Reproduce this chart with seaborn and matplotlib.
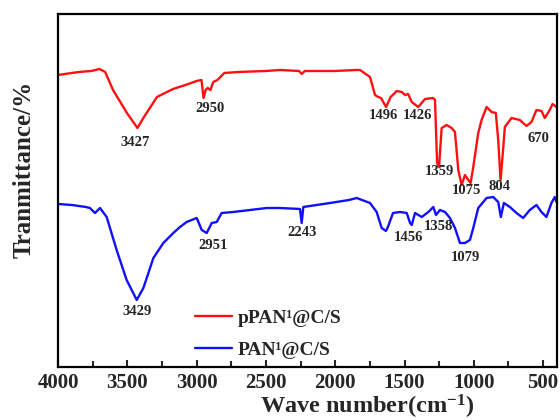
import numpy as np
import pandas as pd
import matplotlib
matplotlib.use("Agg")
import matplotlib.pyplot as plt
import seaborn as sns
from matplotlib.ticker import MultipleLocator

# ---- data (transmittance in arbitrary units) ----
red_wn = [4000, 3850, 3760, 3700, 3660, 3603, 3503, 3427, 3380, 3286, 3170, 3080,
          3000, 2965, 2950, 2935, 2920, 2900, 2880, 2850, 2800, 2700, 2500, 2398,
          2260, 2242, 2220, 2000, 1850, 1821, 1749, 1713, 1690, 1670, 1633, 1600,
          1556, 1520, 1496, 1474, 1448, 1401, 1352, 1294, 1280, 1265, 1251, 1232,
          1196, 1160, 1136, 1112, 1088, 1064, 1040, 1023, 1004, 968, 944, 908,
          872, 841, 824, 807, 793, 776, 728, 668, 620, 584, 548, 512, 488, 452,
          432, 403]
red_t = [292, 295, 296, 298, 295, 277, 254, 239, 250, 270, 278, 282,
         286, 287, 269, 277, 279, 277, 285, 287, 294, 295, 296, 297,
         296, 293, 296, 296, 297, 297, 290, 272, 270, 269, 260, 270,
         276, 275, 272, 273, 265, 260, 268, 269, 267, 204, 200, 239,
         242, 239, 235, 197, 182, 192, 187, 184, 200, 234, 247, 260,
         255, 254, 227, 187, 210, 240, 249, 247, 241, 245, 257, 256, 249, 257,
         263, 260]

blue_wn = [4000, 3900, 3800, 3770, 3733, 3697, 3649, 3577, 3505, 3432, 3384, 3312,
           3240, 3168, 3120, 3072, 2999, 2963, 2927, 2891, 2855, 2819, 2735, 2494,
           2400, 2254, 2242, 2230, 2037, 1900, 1845, 1749, 1701, 1665, 1634, 1620,
           1583, 1532, 1484, 1460, 1448, 1424, 1376, 1328, 1292, 1273, 1244, 1208,
           1172, 1136, 1100, 1064, 1028, 1004, 968, 908, 860, 824, 805, 783,
           740, 692, 644, 596, 548, 512, 476, 440, 416, 403]
blue_t = [163, 162, 160, 159, 154, 159, 150, 117, 87, 67, 79, 109,
          124, 134, 140, 145, 149, 137, 134, 144, 145, 154, 155, 159,
          159, 158, 144, 160, 164, 167, 169, 164, 155, 139, 136, 140,
          154, 155, 154, 144, 142, 154, 150, 155, 160, 152, 157, 155,
          149, 139, 124, 124, 127, 139, 159, 169, 170, 165, 150, 164,
          160, 154, 149, 157, 162, 155, 150, 164, 170, 165]

series_names = ["pPAN\u00b9@C/S", "PAN\u00b9@C/S"]
series_colors = ["#ff1010", "#1010ff"]

red_peak_labels = ["3427", "2950", "1496", "1426", "1359", "1075", "804", "670"]
red_peak_pos = [(3444, 224), (2903, 258), (1653, 251), (1405, 251),
                (1249, 195), (1056, 176), (818, 180), (535, 228)]
blue_peak_labels = ["3429", "2951", "2243", "1456", "1358", "1079"]
blue_peak_pos = [(3432, 55), (2879, 121), (2242, 134), (1472, 129),
                 (1256, 140), (1063, 109)]

xticks = [4000, 3500, 3000, 2500, 2000, 1500, 1000, 500]

# ---- figure ----
sns.set_style("ticks")
plt.rcParams["font.family"] = ["Liberation Serif", "DejaVu Serif"]
plt.rcParams["font.weight"] = "bold"
plt.rcParams["mathtext.fontset"] = "custom"
plt.rcParams["mathtext.rm"] = "Liberation Serif:bold"
plt.rcParams["mathtext.bf"] = "Liberation Serif:bold"
plt.rcParams["mathtext.it"] = "Liberation Serif:bold:italic"
plt.rcParams["mathtext.default"] = "bf"

fig = plt.figure(figsize=(5.6, 4.2), dpi=100)
ax = fig.add_axes([0.1036, 0.1262, 0.8910, 0.8405])

df = pd.concat([
    pd.DataFrame({"wn": red_wn, "T": red_t, "sample": series_names[0]}),
    pd.DataFrame({"wn": blue_wn, "T": blue_t, "sample": series_names[1]}),
])
sns.lineplot(data=df, x="wn", y="T", hue="sample", palette=series_colors,
             sort=False, estimator=None, linewidth=1.7, ax=ax, legend=True)

ax.set_xlim(4000, 400)
ax.set_ylim(0, 353)
ax.set_yticks([])
ax.set_xticks(xticks)
ax.xaxis.set_minor_locator(MultipleLocator(250))
ax.tick_params(axis="x", which="major", direction="in", length=5, width=1.5,
               labelsize=15, pad=4)
ax.tick_params(axis="x", which="minor", direction="in", length=4, width=1.5)
ax.tick_params(axis="x", top=False, which="both")
for lab in ax.get_xticklabels():
    lab.set_fontweight("bold")
for sp in ax.spines.values():
    sp.set_visible(True)
    sp.set_linewidth(1.6)
    sp.set_color("black")

ax.set_xlabel(r"Wave number(cm$^{-1}$)", fontsize=17.5, fontweight="bold")
ax.xaxis.set_label_coords(0.62, -0.072)
ax.set_ylabel("Tranmittance/%", fontsize=18, fontweight="bold")
ax.yaxis.set_label_coords(-0.045, 0.56)

for lab, (x, y) in zip(red_peak_labels, red_peak_pos):
    ax.text(x, y, lab, ha="center", va="center", fontsize=10.5, fontweight="bold")
for lab, (x, y) in zip(blue_peak_labels, blue_peak_pos):
    ax.text(x, y, lab, ha="center", va="center", fontsize=10.5, fontweight="bold")

leg = ax.legend(loc="lower left", bbox_to_anchor=(0.275, 0.022), frameon=False,
                prop={"size": 14, "weight": "bold"}, handlelength=1.9,
                handletextpad=0.3, labelspacing=0.75, borderpad=0, borderaxespad=0)
for line in leg.get_lines():
    line.set_linewidth(1.7)

fig.savefig("out.png", dpi=100)
